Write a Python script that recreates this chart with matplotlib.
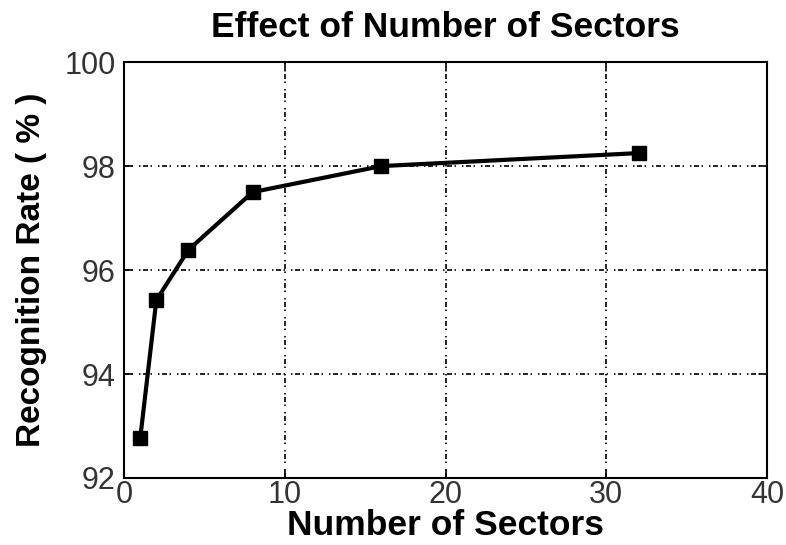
import matplotlib.pyplot as plt

# Recognition rate vs number of sectors
sectors = [1, 2, 4, 8, 16, 32]
rate = [92.77, 95.42, 96.39, 97.5, 98.0, 98.25]

x_ticks = [0, 10, 20, 30, 40]
y_ticks = [92, 94, 96, 98, 100]

plt.rcParams["font.family"] = ["Liberation Sans", "DejaVu Sans"]

fig = plt.figure(figsize=(7.86, 5.45), dpi=100)
ax = fig.add_axes([0.158, 0.123, 0.818, 0.763])

ax.plot(sectors, rate, color="black", linewidth=3, marker="s", markersize=10,
        markerfacecolor="black", markeredgecolor="black", zorder=3)

ax.set_xlim(0, 40)
ax.set_ylim(92, 100)
ax.set_xticks(x_ticks)
ax.set_yticks(y_ticks)
ax.tick_params(direction="in", length=6, width=1.2, labelsize=22,
               labelcolor="#333333", top=True, right=True)
ax.tick_params(axis="x", pad=1.5)
ax.tick_params(axis="y", pad=6)
for s in ax.spines.values():
    s.set_linewidth(1.5)

ax.grid(True, color="black", linewidth=1.2,
        linestyle=(0, (3.0, 1.5, 0.9, 3.6, 0.9, 1.5)))

ax.set_title("Effect of Number of Sectors", fontsize=25.5, fontweight="bold", pad=18)
ax.set_xlabel("Number of Sectors", fontsize=25.5, fontweight="bold", labelpad=-0.5)
ax.set_ylabel("Recognition Rate ( % )", fontsize=24, fontweight="bold", labelpad=13)

fig.savefig("out.png", dpi=100)
